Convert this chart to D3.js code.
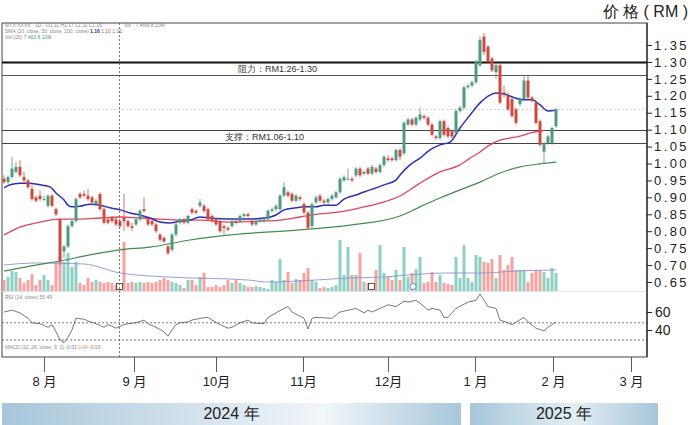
<!DOCTYPE html>
<html>
<head>
<meta charset="utf-8">
<script src="https://cdn.jsdelivr.net/npm/d3@7"></script>
<style>
  body { margin: 0; background: #fff; }
  svg { display: block; font-family: "Liberation Sans", Arial, sans-serif; }
</style>
</head>
<body>
<div id="chart"></div>
<script>
// daily candles [open, high, low, close]
const ohlc = [
  [.955,.965,.94,.945],[.945,.965,.94,.96],[.96,1.02,.955,.985],[.975,1.005,.97,.99],[.99,1.01,.96,.965],
  [.96,.975,.945,.95],[.95,.955,.925,.93],[.925,.935,.89,.895],[.90,.905,.885,.89],[.905,.92,.89,.895],
  [.895,.905,.89,.895],[.875,.91,.87,.905],[.905,.91,.87,.875],[.865,.87,.845,.85],[.835,.84,.70,.71],
  [.74,.76,.72,.755],[.755,.82,.75,.815],[.815,.835,.81,.83],[.83,.90,.825,.895],[.91,.915,.895,.90],
  [.91,.92,.90,.905],[.905,.925,.89,.895],[.90,.905,.88,.885],[.88,.895,.875,.89],[.91,.915,.86,.865],
  [.865,.87,.82,.825],[.835,.84,.82,.825],[.84,.845,.825,.83],[.835,.84,.815,.82],[.83,.835,.81,.815],
  [.84,.91,.80,.83],[.83,.835,.81,.815],[.815,.825,.80,.81],[.82,.84,.815,.835],[.835,.865,.83,.86],
  [.865,.90,.855,.86],[.835,.84,.815,.82],[.83,.835,.815,.82],[.82,.825,.795,.80],[.79,.795,.77,.775],
  [.78,.785,.765,.77],[.755,.76,.73,.735],[.745,.795,.74,.79],[.79,.825,.785,.82],[.825,.84,.82,.835],
  [.835,.84,.82,.825],[.825,.85,.82,.845],[.865,.87,.85,.855],[.86,.865,.85,.855],[.875,.895,.87,.885],
  [.875,.88,.855,.86],[.865,.87,.83,.835],[.845,.85,.825,.83],[.835,.84,.815,.82],[.83,.835,.795,.80],
  [.815,.82,.79,.81],[.81,.815,.80,.805],[.815,.835,.81,.83],[.83,.835,.82,.825],[.83,.85,.825,.845],
  [.845,.855,.84,.85],[.85,.855,.84,.845],[.83,.835,.815,.82],[.82,.835,.815,.83],[.83,.84,.825,.835],
  [.83,.84,.825,.835],[.835,.865,.83,.86],[.86,.87,.855,.865],[.865,.88,.86,.875],[.865,.91,.86,.905],
  [.905,.945,.90,.93],[.915,.92,.90,.905],[.91,.915,.885,.89],[.89,.91,.885,.905],[.90,.905,.89,.895],
  [.88,.885,.85,.855],[.855,.86,.805,.81],[.815,.885,.81,.88],[.885,.905,.88,.90],[.905,.91,.885,.89],
  [.89,.895,.88,.885],[.885,.90,.88,.895],[.895,.91,.89,.905],[.90,.92,.895,.915],[.915,.96,.91,.955],
  [.95,.965,.945,.96],[.955,.985,.95,.955],[.955,.96,.945,.95],[.965,.99,.96,.985],[.985,.99,.96,.965],
  [.97,.98,.965,.975],[.985,.99,.965,.97],[.97,.995,.965,.99],[.985,.99,.97,.975],[.975,1.00,.97,.995],
  [.995,1.025,.99,1.02],[1.015,1.025,1.005,1.01],[1.015,1.02,1.005,1.01],[1.01,1.045,1.005,1.04],[1.04,1.045,1.01,1.02],
  [1.03,1.125,1.025,1.12],[1.115,1.135,1.11,1.13],[1.13,1.135,1.11,1.115],[1.115,1.14,1.11,1.135],[1.13,1.165,1.125,1.145],
  [1.14,1.145,1.13,1.135],[1.135,1.14,1.11,1.115],[1.115,1.12,1.08,1.085],[1.08,1.085,1.07,1.075],[1.075,1.13,1.07,1.125],
  [1.125,1.13,1.08,1.085],[1.105,1.11,1.075,1.08],[1.095,1.10,1.075,1.08],[1.09,1.16,1.085,1.155],[1.155,1.17,1.15,1.165],
  [1.165,1.23,1.16,1.225],[1.225,1.235,1.22,1.23],[1.23,1.245,1.225,1.24],[1.24,1.305,1.235,1.30],[1.29,1.375,1.285,1.365],
  [1.375,1.385,1.32,1.33],[1.345,1.35,1.295,1.30],[1.31,1.315,1.27,1.275],[1.27,1.295,1.25,1.29],[1.29,1.295,1.175,1.18],
  [1.21,1.23,1.195,1.205],[1.20,1.21,1.155,1.16],[1.19,1.195,1.135,1.14],[1.16,1.165,1.115,1.12],[1.175,1.195,1.17,1.19],
  [1.19,1.26,1.185,1.245],[1.245,1.26,1.19,1.195],[1.195,1.20,1.18,1.185],[1.18,1.185,1.115,1.12],[1.125,1.13,1.05,1.055],
  [1.035,1.065,1.00,1.06],[1.06,1.085,1.055,1.08],[1.06,1.11,1.055,1.105],[1.11,1.165,1.105,1.16]
];

const volumes = [
  11,14,20,19,13,8,11,17,6,11, 16,11,6,29,34,29,38,24,29,8, 6,13,9,11,9,8,9,8,6,5,
  49,8,9,8,9,8,9,8,9,11, 13,11,9,8,6,3,11,11,6,14, 18,4,4,6,4,6,11,8,11,8,
  6,4,4,5,4,3,2,11,9,32, 11,19,8,12,11,18,23,11,9,3, 4,3,4,6,51,16,44,16,16,38,
  9,8,6,21,46,18,14,11,21,11, 44,14,18,22,34,8,9,19,9,16, 8,7,6,34,13,46,13,9,36,34,
  29,28,32,13,36,21,26,34,21,21, 21,9,18,21,21,19,13,23,18
];

// moving averages, [candle index, price]
const sma20 = [[0,.928],[1.5,.937],[4,.942],[6,.942],[9,.937],[11.5,.931],[13,.913],[15,.892],[16,.877],[17,.872],
  [19,.874],[21.5,.880],[24,.877],[26.5,.869],[29,.863],[31.5,.854],[34,.848],[36.5,.839],[39,.827],[41.5,.824],
  [44,.830],[46.5,.833],[49,.842],[51.5,.839],[56.5,.836],[61.5,.836],[65,.839],[68,.848],[70,.863],[73,.869],
  [75,.872],[78,.872],[80,.877],[83,.877],[85,.895],[88,.907],[90,.916],[93,.928],[95,.937],[98,.951],
  [99,.966],[101.5,.996],[104,1.016],[106.5,1.040],[109,1.055],[111.5,1.063],[114,1.105],[116.5,1.143],[119,1.179],
  [121.5,1.202],[123,1.208],[125,1.205],[128,1.193],[130,1.188],[132,1.188],[134,1.173],[136,1.155],[138,1.157]];
const sma50 = [[0,.789],[4,.812],[9,.827],[14,.836],[19,.836],[24,.839],[29,.842],[34,.839],[39,.836],[44,.833],
  [49,.833],[56.5,.827],[64,.830],[69,.833],[74,.842],[79,.851],[84,.857],[89,.869],[94,.883],[99,.904],
  [104,.942],[109,.975],[114,.996],[116.5,1.016],[119,1.034],[121.5,1.055],[124,1.069],[126.5,1.075],[129,1.081],
  [131.5,1.090],[134,1.096],[135,1.097]];
const sma100 = [[0,.682],[6.5,.697],[14,.712],[21.5,.730],[29,.745],[36.5,.753],[46.5,.774],[56.5,.789],[74,.804],
  [86.5,.818],[99,.845],[104,.872],[109,.898],[114,.922],[119,.945],[124,.972],[129,.990],[134,.999],[138,1.004]];
const volAvg = [[0,26],[8,28],[20,27],[29,18],[41,14],[61,11],[66,9],[78,11],[86,13],[95,14],[101,16],[111,18],
  [120,18],[128,20],[138,21]];
const rsi = [[0,60],[2,62],[4,59],[6,53],[7,48],[9,47],[11,43],[12,46],[13,38],[14,29],[15,26],[16,32],[17,40],
  [18,53],[20,52],[21,50],[23,47],[25,43],[26,46],[28,42],[30,46],[31,47],[33,48],[35,51],[36,47],[38,43],
  [40,38],[41,33],[42,40],[43,46],[44,48],[46,49],[47,51],[49,53],[51,54],[52,51],[54,46],[56,42],[57,43],
  [59,48],[61,51],[62,48],[65,47],[66,54],[70,64],[71,66],[72,60],[75,53],[76,41],[77,53],[78,54],[82,53],
  [84,60],[86,62],[88,64],[90,59],[91,62],[92,60],[95,66],[96,68],[98,66],[100,72],[101,71],[103,73],
  [104,70],[106,62],[107,64],[109,62],[110,54],[111,54],[113,64],[116,71],[118,73],[119,80],[121,66],
  [123,64],[124,51],[126,48],[127,46],[130,54],[131,49],[133,42],[135,39],[136,43],[138,49]];

const priceTicks = [0.65,0.70,0.75,0.80,0.85,0.90,0.95,1.00,1.05,1.10,1.15,1.20,1.25,1.30,1.35];
const rsiTicks = [60, 40];
const rsiLevels = [48, 29];
const monthIdx = [10, 32.5, 53, 74.75, 96, 117.75, 137.25, 156.75];
const monthLabels = ["8 月", "9 月", "10月", "11月", "12月", "1 月", "2 月", "3 月"];
const resistance = [1.26, 1.30];
const support = [1.06, 1.10];
const lastPrice = 1.16;
const crossIdx = 29;
const years = [
  { label: "2024 年", from: -0.5, to: 114.25 },
  { label: "2025 年", from: 116.5, to: 163.5 }
];

const width = 690, height = 425;
const frame = { left: 2, right: 647, top: 23, bottom: 357 };

const svg = d3.select("#chart").append("svg")
  .attr("width", width)
  .attr("height", height);

svg.append("rect").attr("width", width).attr("height", height).attr("fill", "#fff");

const x = d3.scaleLinear().domain([0, 138]).range([4, 556]);
const y = d3.scaleLinear().domain([0.65, 1.35]).range([282, 45]);
const yVol = d3.scaleLinear().domain([0, 53]).range([291, 238]);
const yRsi = d3.scaleLinear().domain([40, 60]).range([330, 312]);

const upCol = "#4f9a80", downCol = "#cc4b40";
const upVol = "#8fd0c4", downVol = "#f4a3a0";

// frame
svg.append("rect")
  .attr("x", frame.left).attr("y", frame.top)
  .attr("width", frame.right - frame.left).attr("height", frame.bottom - frame.top)
  .attr("fill", "none").attr("stroke", "#444").attr("stroke-width", 1);

svg.append("line")
  .attr("x1", frame.left).attr("x2", frame.right)
  .attr("y1", 291.5).attr("y2", 291.5)
  .attr("stroke", "#e2e2e2");

// tiny legend text
const legend = svg.append("g").attr("font-size", "5px").attr("fill", "#888");
legend.append("text").attr("x", 5).attr("y", 27).text("MYX:XXXX · 1D · O1.11 H1.17 L1.11 C1.16");
legend.append("text").attr("x", 124).attr("y", 27).text("Vol · 7.46M  8.10M");
const l2 = legend.append("text").attr("x", 5).attr("y", 33).text("SMA (20, close, 50, close, 100, close)  ");
l2.append("tspan").attr("fill", "#2b2fb5").attr("font-weight", "bold").text("1.16 ");
l2.append("tspan").attr("fill", "#e2455f").text("1.10 ");
l2.append("tspan").attr("fill", "#3f8f4a").text("1.01");
const l3 = legend.append("text").attr("x", 5).attr("y", 39).text("Vol (20)  ");
l3.append("tspan").attr("fill", "#4f9a80").text("7.463  8.10M");
legend.append("text").attr("x", 5).attr("y", 299).text("RSI (14, close)  55.49");
const l4 = legend.append("text").attr("x", 5).attr("y", 349).text("MACD (12, 26, close, 9, 1)  ");
l4.append("tspan").attr("fill", "#5a7fd0").text("-0.01  ");
l4.append("tspan").attr("fill", "#e09040").text("0.04  ");
l4.append("tspan").text("-0.03  ");

// current price line
svg.append("line")
  .attr("x1", frame.left).attr("x2", frame.right)
  .attr("y1", y(lastPrice)).attr("y2", y(lastPrice))
  .attr("stroke", "#c8c8c8").attr("stroke-dasharray", "2,2");

// support / resistance lines
svg.selectAll(".lvl")
  .data([
    { p: resistance[1], w: 2, c: "#111" },
    { p: resistance[0], w: 1, c: "#555" },
    { p: support[1], w: 1, c: "#444" },
    { p: support[0], w: 1, c: "#444" }
  ])
  .enter().append("line")
  .attr("x1", frame.left).attr("x2", frame.right)
  .attr("y1", d => Math.round(y(d.p)) + 0.5).attr("y2", d => Math.round(y(d.p)) + 0.5)
  .attr("stroke", d => d.c).attr("stroke-width", d => d.w);

svg.append("text")
  .attr("x", 238).attr("y", (y(resistance[0]) + y(resistance[1])) / 2 + 3.5)
  .attr("font-size", "9px").attr("fill", "#333")
  .text("阻力：RM1.26-1.30");
svg.append("text")
  .attr("x", 225).attr("y", (y(support[0]) + y(support[1])) / 2 + 3.5)
  .attr("font-size", "9px").attr("fill", "#333")
  .text("支撑：RM1.06-1.10");

// volume bars
svg.selectAll(".vol")
  .data(volumes)
  .enter().append("rect")
  .attr("x", (d, i) => x(i) - 1.5)
  .attr("y", d => yVol(d))
  .attr("width", 3)
  .attr("height", d => yVol(0) - yVol(d))
  .attr("fill", (d, i) => ohlc[i][3] >= ohlc[i][0] ? upVol : downVol);

const line = d3.line().x(d => x(d[0])).curve(d3.curveMonotoneX);

svg.append("path")
  .attr("d", line.y(d => yVol(d[1]))(volAvg))
  .attr("fill", "none").attr("stroke", "#8c94d4").attr("stroke-width", 0.9);

// markers on volume pane
svg.append("rect").attr("x", 116.5).attr("y", 283.5).attr("width", 6).attr("height", 6)
  .attr("fill", "#fff").attr("stroke", "#333").attr("stroke-width", 0.8);
svg.append("rect").attr("x", 368.5).attr("y", 283.5).attr("width", 6).attr("height", 6)
  .attr("fill", "#fff").attr("stroke", "#333").attr("stroke-width", 0.8);
svg.append("circle").attr("cx", 413).attr("cy", 286.5).attr("r", 3)
  .attr("fill", "#fff").attr("stroke", "#4a6fd0").attr("stroke-width", 0.8);

// moving averages
svg.append("path").attr("d", line.y(d => y(d[1]))(sma100))
  .attr("fill", "none").attr("stroke", "#3f8f4a").attr("stroke-width", 1.2);
svg.append("path").attr("d", line.y(d => y(d[1]))(sma50))
  .attr("fill", "none").attr("stroke", "#e2455f").attr("stroke-width", 1.3);
svg.append("path").attr("d", line.y(d => y(d[1]))(sma20))
  .attr("fill", "none").attr("stroke", "#2b2fb5").attr("stroke-width", 1.5);

// candles
const candle = svg.selectAll(".candle")
  .data(ohlc)
  .enter().append("g");

candle.append("line")
  .attr("x1", (d, i) => x(i)).attr("x2", (d, i) => x(i))
  .attr("y1", d => y(d[1])).attr("y2", d => y(d[2]))
  .attr("stroke", d => d[3] >= d[0] ? upCol : downCol)
  .attr("stroke-width", 0.8);

candle.append("rect")
  .attr("x", (d, i) => x(i) - 1.5)
  .attr("y", d => y(Math.max(d[0], d[3])))
  .attr("width", 3)
  .attr("height", d => Math.max(1, Math.abs(y(d[0]) - y(d[3]))))
  .attr("fill", d => d[3] >= d[0] ? upCol : downCol);

// RSI pane
svg.selectAll(".rsiLvl")
  .data(rsiLevels)
  .enter().append("line")
  .attr("x1", frame.left).attr("x2", frame.right)
  .attr("y1", d => yRsi(d)).attr("y2", d => yRsi(d))
  .attr("stroke", "#555").attr("stroke-width", 0.8).attr("stroke-dasharray", "2,2");

svg.append("path")
  .attr("d", d3.line().x(d => x(d[0])).y(d => yRsi(d[1]))(rsi))
  .attr("fill", "none").attr("stroke", "#555").attr("stroke-width", 0.8);

// crosshair
svg.append("line")
  .attr("x1", x(crossIdx) - 0.5).attr("x2", x(crossIdx) - 0.5)
  .attr("y1", frame.top).attr("y2", frame.bottom)
  .attr("stroke", "#555").attr("stroke-width", 0.8).attr("stroke-dasharray", "2,2");

// right axes
svg.append("line")
  .attr("x1", frame.right).attr("x2", frame.right)
  .attr("y1", frame.top).attr("y2", frame.bottom)
  .attr("stroke", "#222").attr("stroke-width", 1.2);

const priceAxis = svg.append("g")
  .attr("transform", `translate(${frame.right},0)`)
  .call(d3.axisRight(y).tickValues(priceTicks).tickSize(5).tickPadding(2).tickFormat(d3.format(".2f")));
priceAxis.select(".domain").remove();
priceAxis.selectAll("line").attr("stroke", "#222");
priceAxis.selectAll("text")
  .attr("font-size", "13px").attr("fill", "#222")
  .attr("font-family", "'Liberation Sans', Arial, sans-serif")
  .style("letter-spacing", "2.4px");

const rsiAxis = svg.append("g")
  .attr("transform", `translate(${frame.right},0)`)
  .call(d3.axisRight(yRsi).tickValues(rsiTicks).tickSize(5).tickPadding(3));
rsiAxis.select(".domain").remove();
rsiAxis.selectAll("line").attr("stroke", "#222");
rsiAxis.selectAll("text")
  .attr("font-size", "14px").attr("fill", "#222")
  .attr("font-family", "'Liberation Sans', Arial, sans-serif");

svg.append("text")
  .attr("x", 688).attr("y", 17)
  .attr("text-anchor", "end")
  .attr("font-size", "16px").attr("fill", "#222")
  .text("价 格 ( RM )");

// month axis
const monthAxis = svg.append("g")
  .attr("transform", `translate(0,${frame.bottom})`)
  .call(d3.axisBottom(x).tickValues(monthIdx).tickSize(15).tickPadding(5)
    .tickFormat((d, i) => monthLabels[i]));
monthAxis.select(".domain").remove();
monthAxis.selectAll("line").attr("stroke", "#333").attr("stroke-width", 0.8);
monthAxis.selectAll("text")
  .attr("font-size", "13px").attr("fill", "#222")
  .attr("font-family", "'Liberation Sans', 'Noto Sans CJK SC', sans-serif");

// year bands
const defs = svg.append("defs");
const g1 = defs.append("linearGradient").attr("id", "band2024");
g1.append("stop").attr("offset", "0%").attr("stop-color", "#a7c6da");
g1.append("stop").attr("offset", "70%").attr("stop-color", "#f1f6f9");
g1.append("stop").attr("offset", "100%").attr("stop-color", "#a7c6da");
const g2 = defs.append("linearGradient").attr("id", "band2025");
g2.append("stop").attr("offset", "0%").attr("stop-color", "#a7c6da");
g2.append("stop").attr("offset", "55%").attr("stop-color", "#e3eef4");
g2.append("stop").attr("offset", "100%").attr("stop-color", "#a7c6da");

svg.selectAll(".band")
  .data(years)
  .enter().append("rect")
  .attr("x", d => Math.max(0, x(d.from)))
  .attr("y", 403)
  .attr("width", d => x(d.to) - Math.max(0, x(d.from)))
  .attr("height", 22)
  .attr("fill", (d, i) => i === 0 ? "url(#band2024)" : "url(#band2025)");

svg.selectAll(".yearLabel")
  .data(years)
  .enter().append("text")
  .attr("x", d => (Math.max(0, x(d.from)) + x(d.to)) / 2)
  .attr("y", 419)
  .attr("text-anchor", "middle")
  .attr("font-size", "16px").attr("fill", "#222")
  .text(d => d.label);
</script>
</body>
</html>
